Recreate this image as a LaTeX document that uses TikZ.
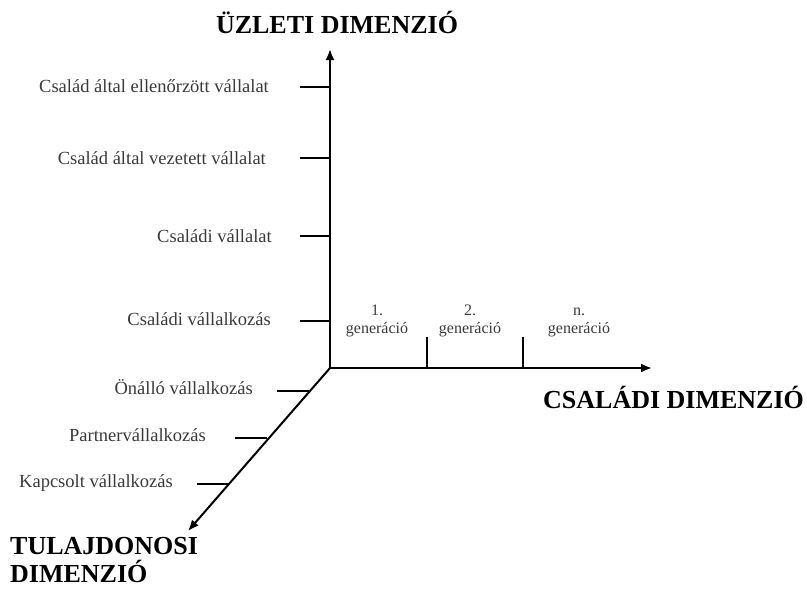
\documentclass[tikz,border=0pt]{standalone}
\usepackage{fontspec}
\setmainfont{Liberation Serif}
\usetikzlibrary{arrows.meta}
\definecolor{lab}{HTML}{3A3A3A}
\tikzset{
  axis/.style={line width=2pt,-{Latex[length=11pt,width=9pt]}},
  tick/.style={line width=2pt},
  lbl/.style={text=lab,font=\fontsize{18.5}{21}\selectfont,inner sep=0pt,anchor=base east},
  gen/.style={text=lab,font=\fontsize{16}{18}\selectfont,inner sep=0pt,align=center,anchor=base},
  ttl/.style={font=\fontsize{26}{28}\selectfont\bfseries,inner sep=0pt,align=left}
}
\begin{document}
\begin{tikzpicture}[x=1pt,y=-1pt]
\useasboundingbox (0,0) rectangle (807,590);
\coordinate (O) at (330,368);
\coordinate (Vtop) at (330,49);
\coordinate (Hend) at (652,368);
\coordinate (Dend) at (188,531);
\draw[axis] (O) -- (Vtop);
\draw[axis] (O) -- (Hend);
\draw[axis] (O) -- (Dend);
% vertical ticks
\foreach \n/\y in {v1/87,v2/158,v3/236,v4/321}{
  \coordinate (\n a) at (300,\y); \coordinate (\n b) at (330,\y);
  \draw[tick] (\n a) -- (\n b);}
% horizontal ticks
\foreach \n/\x in {h1/427,h2/523}{
  \coordinate (\n a) at (\x,337); \coordinate (\n b) at (\x,368);
  \draw[tick] (\n a) -- (\n b);}
% diagonal ticks
\foreach \n/\x/\y in {d1/277/391,d2/235/438,d3/197/484}{
  \coordinate (\n a) at (\x,\y); \coordinate (\n b) at (\x+32,\y);
  \draw[tick] (\n a) -- (\n b);}
% titles
\node[ttl,anchor=base] (tU) at (337,33) {ÜZLETI DIMENZIÓ};
\node[ttl,anchor=base west] (tC) at (543,408) {CSALÁDI DIMENZIÓ};
\node[ttl,anchor=north west] (tT) at (10,537) {TULAJDONOSI\\DIMENZIÓ};
% vertical labels
\node[lbl] (l1) at (269,92) {Család által ellenőrzött vállalat};
\node[lbl] (l2) at (266,164) {Család által vezetett vállalat};
\node[lbl] (l3) at (272,242) {Családi vállalat};
\node[lbl] (l4) at (271,325) {Családi vállalkozás};
% diagonal labels
\node[lbl] (d1l) at (253,394) {Önálló vállalkozás};
\node[lbl] (d2l) at (206,441) {Partnervállalkozás};
\node[lbl] (d3l) at (173,487) {Kapcsolt vállalkozás};
% generations
\node[gen] (g1) at (377,333) {1.\\generáció};
\node[gen] (g2) at (470,333) {2.\\generáció};
\node[gen] (g3) at (579,333) {n.\\generáció};
\end{tikzpicture}
\end{document}
